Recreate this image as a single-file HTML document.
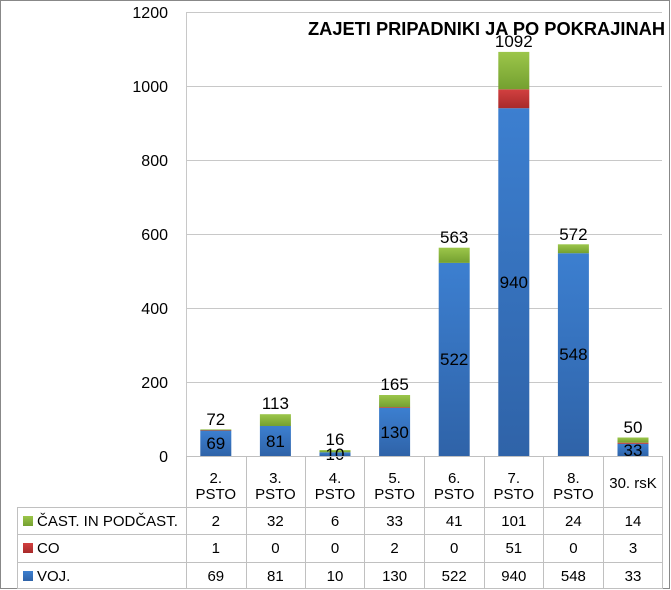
<!DOCTYPE html>
<html><head><meta charset="utf-8"><style>
html,body{margin:0;padding:0;background:#fff}
svg{display:block;font-family:"Liberation Sans","DejaVu Sans",sans-serif}
</style></head><body>
<svg width="671" height="590" viewBox="0 0 671 590" xmlns="http://www.w3.org/2000/svg">
<defs>
<linearGradient id="gb" x1="0" y1="0" x2="0" y2="1"><stop offset="0" stop-color="#3c7fd0"/><stop offset="1" stop-color="#2f63a8"/></linearGradient>
<linearGradient id="gr" x1="0" y1="0" x2="0" y2="1"><stop offset="0" stop-color="#d24040"/><stop offset="1" stop-color="#a82a2a"/></linearGradient>
<linearGradient id="gg" x1="0" y1="0" x2="0" y2="1"><stop offset="0" stop-color="#9cc64a"/><stop offset="1" stop-color="#74a030"/></linearGradient>
</defs>
<rect x="0.5" y="0.5" width="669" height="588" fill="#fff" stroke="#888"/>
<g stroke="#c8c8c8" stroke-width="1">
<line x1="186" y1="12.5" x2="662" y2="12.5"/>
<line x1="186" y1="86.5" x2="662" y2="86.5"/>
<line x1="186" y1="160.5" x2="662" y2="160.5"/>
<line x1="186" y1="234.5" x2="662" y2="234.5"/>
<line x1="186" y1="308.5" x2="662" y2="308.5"/>
<line x1="186" y1="382.5" x2="662" y2="382.5"/>
<line x1="186.5" y1="12" x2="186.5" y2="456"/>
</g>
<g font-size="16" fill="#000" text-anchor="end">
<text x="168" y="18">1200</text>
<text x="168" y="92">1000</text>
<text x="168" y="166">800</text>
<text x="168" y="240">600</text>
<text x="168" y="314">400</text>
<text x="168" y="388">200</text>
<text x="168" y="462">0</text>
</g>
<text x="308" y="35" font-size="18" font-weight="bold" textLength="357" lengthAdjust="spacingAndGlyphs">ZAJETI PRIPADNIKI JA PO POKRAJINAH</text>
<g>
<rect x="200.3" y="430.5" width="31" height="25.5" fill="url(#gb)"/><rect x="200.3" y="430.1" width="31" height="0.6" fill="url(#gr)"/><rect x="200.3" y="429.4" width="31" height="0.8" fill="url(#gg)"/>
<rect x="259.9" y="426" width="31" height="30" fill="url(#gb)"/><rect x="259.9" y="414.2" width="31" height="11.8" fill="url(#gg)"/>
<rect x="319.5" y="452.3" width="31" height="3.7" fill="url(#gb)"/><rect x="319.5" y="450.1" width="31" height="2.2" fill="url(#gg)"/>
<rect x="379.1" y="407.9" width="31" height="48.1" fill="url(#gb)"/><rect x="379.1" y="407.2" width="31" height="0.8" fill="url(#gr)"/><rect x="379.1" y="395" width="31" height="12.2" fill="url(#gg)"/>
<rect x="438.7" y="262.9" width="31" height="193.1" fill="url(#gb)"/><rect x="438.7" y="247.7" width="31" height="15.2" fill="url(#gg)"/>
<rect x="498.3" y="108.2" width="31" height="347.8" fill="url(#gb)"/><rect x="498.3" y="89.3" width="31" height="18.9" fill="url(#gr)"/><rect x="498.3" y="51.9" width="31" height="37.4" fill="url(#gg)"/>
<rect x="557.9" y="253.2" width="31" height="202.8" fill="url(#gb)"/><rect x="557.9" y="244.3" width="31" height="8.9" fill="url(#gg)"/>
<rect x="617.5" y="443.8" width="31" height="12.2" fill="url(#gb)"/><rect x="617.5" y="442.7" width="31" height="1.1" fill="url(#gr)"/><rect x="617.5" y="437.5" width="31" height="5.2" fill="url(#gg)"/>
</g>
<g font-size="17" text-anchor="middle" fill="#000">
<text x="215.8" y="425">72</text><text x="215.8" y="449">69</text>
<text x="275.4" y="409">113</text><text x="275.4" y="447">81</text>
<text x="335" y="445">16</text><text x="335" y="460">10</text>
<text x="394.6" y="390">165</text><text x="394.6" y="438">130</text>
<text x="454.2" y="243">563</text><text x="454.2" y="365">522</text>
<text x="513.8" y="47">1092</text><text x="513.8" y="288">940</text>
<text x="573.4" y="240">572</text><text x="573.4" y="360">548</text>
<text x="633" y="433">50</text><text x="633" y="456">33</text>
</g>
<g stroke="#c0c0c0" stroke-width="1">
<line x1="186" y1="456.5" x2="662" y2="456.5"/>
<line x1="17" y1="507.5" x2="662" y2="507.5"/>
<line x1="17" y1="534.5" x2="662" y2="534.5"/>
<line x1="17" y1="562.5" x2="662" y2="562.5"/>
<line x1="17" y1="588.5" x2="662" y2="588.5"/>
<line x1="17.5" y1="507" x2="17.5" y2="589"/>
<line x1="186.5" y1="456" x2="186.5" y2="589"/>
<line x1="246.5" y1="456" x2="246.5" y2="589"/>
<line x1="305.5" y1="456" x2="305.5" y2="589"/>
<line x1="364.5" y1="456" x2="364.5" y2="589"/>
<line x1="424.5" y1="456" x2="424.5" y2="589"/>
<line x1="484.5" y1="456" x2="484.5" y2="589"/>
<line x1="543.5" y1="456" x2="543.5" y2="589"/>
<line x1="603.5" y1="456" x2="603.5" y2="589"/>
<line x1="662.5" y1="456" x2="662.5" y2="589"/>
</g>
<g font-size="15" text-anchor="middle" fill="#000">
<text x="215.8" y="483">2.</text><text x="215.8" y="499">PSTO</text>
<text x="275.4" y="483">3.</text><text x="275.4" y="499">PSTO</text>
<text x="335" y="483">4.</text><text x="335" y="499">PSTO</text>
<text x="394.6" y="483">5.</text><text x="394.6" y="499">PSTO</text>
<text x="454.2" y="483">6.</text><text x="454.2" y="499">PSTO</text>
<text x="513.8" y="483">7.</text><text x="513.8" y="499">PSTO</text>
<text x="573.4" y="483">8.</text><text x="573.4" y="499">PSTO</text>
<text x="633" y="488">30. rsK</text>
<text x="215.8" y="526">2</text><text x="275.4" y="526">32</text><text x="335" y="526">6</text><text x="394.6" y="526">33</text><text x="454.2" y="526">41</text><text x="513.8" y="526">101</text><text x="573.4" y="526">24</text><text x="633" y="526">14</text>
<text x="215.8" y="553">1</text><text x="275.4" y="553">0</text><text x="335" y="553">0</text><text x="394.6" y="553">2</text><text x="454.2" y="553">0</text><text x="513.8" y="553">51</text><text x="573.4" y="553">0</text><text x="633" y="553">3</text>
<text x="215.8" y="581">69</text><text x="275.4" y="581">81</text><text x="335" y="581">10</text><text x="394.6" y="581">130</text><text x="454.2" y="581">522</text><text x="513.8" y="581">940</text><text x="573.4" y="581">548</text><text x="633" y="581">33</text>
</g>
<rect x="23" y="516" width="10" height="10" fill="url(#gg)"/>
<rect x="23" y="543" width="10" height="10" fill="url(#gr)"/>
<rect x="23" y="571" width="10" height="10" fill="url(#gb)"/>
<g font-size="15" fill="#000">
<text x="37" y="526">ČAST. IN PODČAST.</text>
<text x="37" y="553">CO</text>
<text x="37" y="581">VOJ.</text>
</g>
</svg>
</body></html>
